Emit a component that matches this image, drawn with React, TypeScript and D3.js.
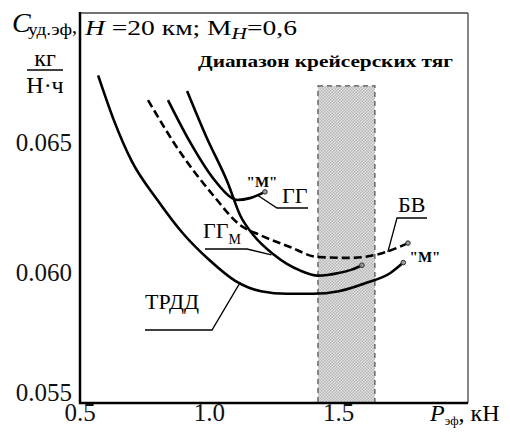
import { line, curveMonotoneX, scaleLinear } from 'd3';

// thrust, kN
const trddP = [0.57, 0.63, 0.7, 0.8, 0.9, 1.0, 1.1, 1.2, 1.3, 1.4, 1.5, 1.6, 1.7, 1.75];
const trddC = [0.0676, 0.0659, 0.0643, 0.0628, 0.0615, 0.0605, 0.0597, 0.0593, 0.0592, 0.0592, 0.0593, 0.0596, 0.0600, 0.0604];

const ggP = [0.84, 0.925, 1.014, 1.088, 1.107, 1.157, 1.215];
const ggC = [0.06665, 0.06504, 0.06365, 0.06288, 0.06281, 0.06288, 0.06312];

const ggmP = [0.914, 0.99, 1.07, 1.12, 1.17, 1.25, 1.3, 1.35, 1.42, 1.5, 1.55, 1.59];
const ggmC = [0.0670, 0.0652, 0.0635, 0.0622, 0.06146, 0.0607, 0.06035, 0.0601, 0.0599, 0.0600, 0.06013, 0.0603];

const bvP = [0.763, 0.887, 1.014, 1.118, 1.196, 1.312, 1.416, 1.545, 1.671, 1.768];
const bvC = [0.06665, 0.06465, 0.063, 0.06185, 0.06146, 0.061, 0.06062, 0.06058, 0.06077, 0.06115];

const cruiseRange = [1.42, 1.64];
const cruiseTop = 0.0672;

const xTicks = [0.5, 1.0, 1.5];
const yTicks = [0.055, 0.06, 0.065];

const W = 510;
const H = 439;
const FONT = 'Liberation Serif';

const x = scaleLinear().domain([0.5, 2.0]).range([80, 468]);
const y = scaleLinear().domain([0.055, 0.07]).range([403, 13]);

const zip = (ps: number[], cs: number[]) => ps.map((p, i) => [p, cs[i]] as [number, number]);

const path = line<[number, number]>()
  .x((d) => x(d[0]))
  .y((d) => y(d[1]))
  .curve(curveMonotoneX);

const T = (props: any) => <text fontFamily={FONT} style={{ fontFamily: FONT }} {...props} />;

const App = () => {
  const curves = [
    { key: 'trdd', pts: zip(trddP, trddC), dash: undefined },
    { key: 'gg', pts: zip(ggP, ggC), dash: undefined },
    { key: 'ggm', pts: zip(ggmP, ggmC), dash: undefined },
    { key: 'bv', pts: zip(bvP, bvC), dash: '8 4' },
  ];

  // leader line anchor on a curve (data units)
  const at = (p: number, c: number) => [x(p), y(c)];
  const [ggA0, ggA1] = at(1.185, 0.063);
  const [bvA0, bvA1] = at(1.69, 0.0608);
  const [ggmA0, ggmA1] = at(1.24, 0.0607);
  const [trA0, trA1] = at(1.12, 0.05965);

  return (
    <svg width={W} height={H} fontFamily={FONT} style={{ position: 'absolute', left: 0, top: 0 }}>
      <defs>
        <pattern id="chk" width={3} height={3} patternUnits="userSpaceOnUse">
          <rect width={3} height={3} fill="#e4e4e4" />
          <rect width={1.5} height={1.5} fill="#b4b4b4" />
          <rect x={1.5} y={1.5} width={1.5} height={1.5} fill="#b4b4b4" />
        </pattern>
      </defs>
      <rect width={W} height={H} fill="#fff" />

      {/* cruise thrust range */}
      <rect
        x={x(cruiseRange[0])}
        y={y(cruiseTop)}
        width={x(cruiseRange[1]) - x(cruiseRange[0])}
        height={y(0.055) - y(cruiseTop)}
        fill="url(#chk)"
        stroke="#555"
        strokeWidth={1.3}
        strokeDasharray="5 4"
      />

      {/* frame */}
      <line x1={x(0.5)} x2={x(2.0)} y1={y(0.07)} y2={y(0.07)} stroke="#444" strokeWidth={1.3} />
      <line x1={x(2.0)} x2={x(2.0)} y1={y(0.07)} y2={y(0.055)} stroke="#444" strokeWidth={1.3} />
      <line x1={x(0.5)} x2={x(0.5)} y1={y(0.07) - 1} y2={y(0.055) + 1} stroke="#000" strokeWidth={2.5} />
      <line x1={x(0.5) - 1} x2={x(2.0)} y1={y(0.055)} y2={y(0.055)} stroke="#000" strokeWidth={2.5} />

      {/* curves */}
      {curves.map((c) => (
        <path
          key={c.key}
          d={path(c.pts) ?? ''}
          fill="none"
          stroke="#000"
          strokeWidth={2.6}
          strokeDasharray={c.dash}
        />
      ))}
      {curves.map((c) => {
        const last = c.pts[c.pts.length - 1];
        return (
          <circle
            key={c.key + '-m'}
            cx={x(last[0])}
            cy={y(last[1])}
            r={2.3}
            fill="#999"
            stroke="#333"
            strokeWidth={1}
          />
        );
      })}

      {/* leaders */}
      <g stroke="#000" strokeWidth={1.3} fill="none">
        <polyline points={`${ggA0},${ggA1} 277,208 308,208`} />
        <polyline points={`${bvA0},${bvA1} 397,218 427,218`} />
        <polyline points={`205,249 247,249 ${ggmA0},${ggmA1}`} />
        <polyline points={`145,330 212,330 ${trA0},${trA1}`} />
      </g>

      {/* curve labels */}
      <T x={282} y={203} fontSize={22}>ГГ</T>
      <T x={398} y={212} fontSize={22}>БВ</T>
      <T x={203} y={238} fontSize={22}>
        ГГ<tspan fontSize={14} dy={6}>М</tspan>
      </T>
      <T x={145} y={309} fontSize={22}>ТРДД</T>
      <T x={262} y={187} fontSize={15} fontWeight="bold" textAnchor="middle">"М"</T>
      <T x={425} y={262} fontSize={15} fontWeight="bold" textAnchor="middle">"М"</T>

      {/* titles */}
      <T x={85} y={35} fontSize={22} textLength={212} lengthAdjust="spacingAndGlyphs">
        <tspan fontStyle="italic">H</tspan> =20 км; М<tspan fontStyle="italic" fontSize={17} dy={4}>H</tspan>
        <tspan dy={-4}>=0,6</tspan>
      </T>
      <T x={198} y={67} fontSize={17} fontWeight="bold" textLength={255} lengthAdjust="spacingAndGlyphs">
        Диапазон крейсерских тяг
      </T>

      {/* y axis title */}
      <T x={12} y={32} fontSize={28} fontStyle="italic">C</T>
      <T x={28} y={35} fontSize={16} textLength={44} lengthAdjust="spacingAndGlyphs">уд.эф</T>
      <T x={72} y={33} fontSize={20}>,</T>
      <T x={45} y={66} fontSize={24} textAnchor="middle">кг</T>
      <line x1={27} x2={63} y1={70} y2={70} stroke="#000" strokeWidth={1.5} />
      <T x={45} y={93} fontSize={24} textAnchor="middle">Н·ч</T>

      {/* ticks */}
      {yTicks.map((v) => (
        <T key={v} x={72} y={Math.min(y(v) + 8, 401)} fontSize={25} fill="#111" textAnchor="end">
          {v.toFixed(3)}
        </T>
      ))}
      {xTicks.map((v) => (
        <T key={v} x={x(v)} y={421} fontSize={25} fill="#111" textAnchor="middle">
          {v.toFixed(1)}
        </T>
      ))}

      {/* x axis title */}
      <T x={430} y={421} fontSize={24}>
        <tspan fontStyle="italic">P</tspan>
        <tspan fontSize={13} dy={4}>эф</tspan>
        <tspan dy={-4}>, кН</tspan>
      </T>
    </svg>
  );
};

export default App;
